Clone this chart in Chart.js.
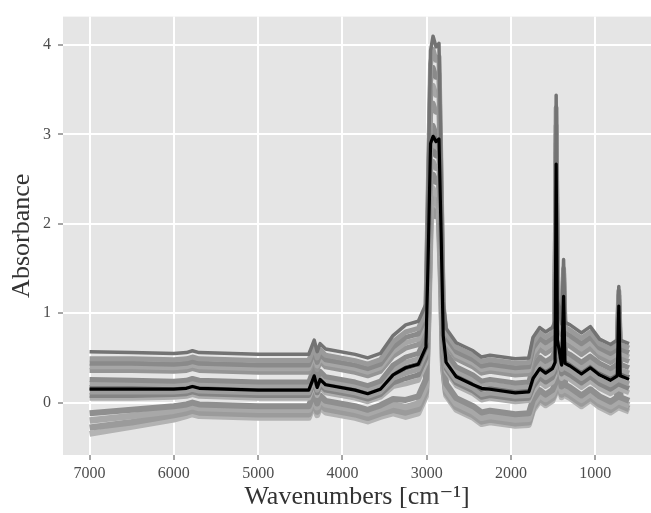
<!DOCTYPE html>
<html>
<head>
<meta charset="utf-8">
<script src="https://cdn.jsdelivr.net/npm/chart.js@4.4.0/dist/chart.umd.min.js"></script>
<style>
  html, body { margin: 0; padding: 0; background: #ffffff; }
  #spectra-chart { display: block; }
</style>
</head>
<body>
<canvas id="spectra-chart" width="651" height="513"></canvas>
<script>
// shared wavenumber grid (cm-1)
const wavenumbers = [7000, 6500, 6000, 5850, 5780, 5700, 5000, 4400, 4335, 4300, 4265, 4200, 3850, 3700, 3550, 3400, 3250, 3100, 3010, 2985, 2955, 2925, 2890, 2855, 2830, 2805, 2770, 2650, 2450, 2350, 2250, 1950, 1790, 1740, 1660, 1590, 1510, 1478, 1465, 1450, 1400, 1377, 1360, 1300, 1165, 1060, 950, 820, 740, 722, 705, 600];

// black mean spectrum
const meanSpectrum = [.15, .15, .15, .16, .18, .16, .14, .14, .30, .17, .26, .20, .14, .10, .15, .31, .39, .43, .62, 1.55, 2.90, 2.98, 2.92, 2.95, 1.90, .75, .45, .29, .20, .16, .15, .11, .12, .27, .38, .33, .38, .45, 2.67, .70, .42, 1.19, .44, .41, .32, .39, .31, .25, .30, 1.08, .30, .26];

// upper group
const spectrumU1 = [.57, .56, .55, .56, .58, .56, .54, .54, .70, .57, .66, .60, .54, .50, .55, .75, .87, .91, 1.10, 2.37, 3.94, 4.10, 3.98, 4.02, 2.62, 1.13, .83, .67, .58, .51, .53, .49, .50, .73, .84, .79, .84, .91, 3.44, 1.16, .88, 1.60, .90, .87, .78, .85, .71, .65, .70, 1.30, .70, .66];
const spectrumU2 = [.49, .49, .48, .49, .51, .49, .47, .47, .63, .50, .59, .53, .47, .43, .48, .68, .79, .83, 1.02, 2.25, 3.79, 3.95, 3.83, 3.87, 2.53, 1.08, .78, .62, .53, .46, .48, .44, .45, .67, .78, .73, .78, .85, 3.30, 1.10, .82, 1.50, .84, .81, .72, .79, .66, .60, .65, 1.25, .65, .61];
const spectrumU3 = [.44, .44, .43, .44, .46, .44, .42, .42, .58, .45, .54, .48, .42, .38, .43, .62, .73, .77, .96, 2.12, 3.60, 3.75, 3.64, 3.68, 2.40, 1.03, .73, .57, .48, .41, .43, .39, .40, .61, .72, .67, .72, .79, 3.10, 1.04, .76, 1.45, .78, .75, .66, .73, .61, .55, .60, 1.20, .60, .56];
const spectrumU4 = [.40, .40, .39, .40, .42, .40, .38, .38, .54, .41, .50, .44, .38, .34, .39, .57, .67, .71, .90, 1.99, 3.41, 3.55, 3.44, 3.48, 2.27, .99, .69, .53, .44, .37, .39, .35, .36, .55, .66, .61, .66, .73, 3.00, .98, .70, 1.40, .72, .69, .60, .67, .56, .50, .55, 1.15, .55, .51];
const spectrumU5 = [.36, .36, .35, .36, .38, .36, .34, .34, .50, .37, .46, .40, .34, .30, .35, .52, .61, .65, .84, 1.85, 3.22, 3.35, 3.25, 3.28, 2.14, .95, .65, .49, .40, .33, .35, .31, .32, .49, .60, .55, .60, .67, 2.90, .92, .64, 1.35, .66, .63, .54, .61, .51, .45, .50, 1.12, .50, .46];

// middle group
const spectrumM1 = [.26, .25, .24, .25, .27, .25, .23, .23, .39, .26, .35, .29, .23, .19, .24, .42, .51, .55, .74, 1.67, 2.98, 3.10, 3.01, 3.04, 1.98, .86, .56, .40, .31, .24, .26, .22, .23, .40, .51, .46, .51, .58, 2.80, .83, .55, 1.30, .57, .54, .45, .52, .44, .38, .43, 1.10, .43, .39];
const spectrumM2 = [.21, .21, .20, .21, .23, .21, .19, .19, .35, .22, .31, .25, .19, .15, .20, .37, .45, .49, .68, 1.56, 2.83, 2.95, 2.86, 2.89, 1.89, .81, .51, .35, .26, .19, .21, .17, .18, .34, .45, .40, .45, .52, 2.70, .77, .49, 1.22, .51, .48, .39, .46, .38, .32, .37, 1.05, .37, .33];
const spectrumM3 = [.17, .17, .17, .18, .20, .18, .16, .16, .32, .19, .28, .22, .16, .12, .17, .32, .39, .43, .62, 1.57, 2.90, 3.02, 2.93, 2.96, 1.93, .77, .47, .31, .22, .15, .17, .13, .14, .29, .40, .35, .40, .47, 2.70, .72, .44, 1.18, .46, .43, .34, .41, .33, .27, .32, 1.05, .32, .28];
const spectrumM4 = [.12, .12, .12, .13, .15, .13, .11, .11, .27, .14, .23, .17, .11, .07, .12, .27, .33, .37, .56, 1.37, 2.59, 2.70, 2.62, 2.65, 1.73, .71, .41, .25, .16, .09, .11, .07, .08, .22, .33, .28, .33, .40, 2.40, .65, .37, 1.10, .39, .36, .27, .34, .26, .20, .25, 1.00, .25, .21];
const spectrumM5 = [.08, .08, .09, .10, .12, .10, .08, .08, .24, .11, .20, .14, .08, .04, .09, .22, .27, .31, .50, 1.42, 2.74, 2.85, 2.76, 2.79, 1.82, .68, .38, .22, .13, .06, .08, .04, .05, .17, .28, .23, .28, .35, 2.30, .60, .32, 1.05, .34, .31, .22, .29, .21, .15, .20, .95, .20, .16];
const spectrumM6 = [.05, .05, .06, .07, .09, .07, .05, .05, .21, .08, .17, .11, .05, .01, .06, .18, .21, .25, .44, 1.16, 2.30, 2.40, 2.33, 2.35, 1.54, .65, .35, .19, .10, .03, .05, .01, .02, .12, .23, .18, .23, .30, 2.10, .55, .27, 1.00, .29, .26, .17, .24, .16, .10, .15, .90, .15, .11];

// lower group
const spectrumL1 = [-.12, -.08, -.04, -.02, .00, -.02, -.04, -.04, .12, -.01, .08, .02, -.04, -.08, -.03, .04, .03, .07, .26, 1.15, 2.45, 2.55, 2.47, 2.50, 1.63, .51, .21, .05, -.04, -.11, -.09, -.13, -.12, .03, .14, .09, .14, .21, 2.00, .46, .18, .95, .20, .17, .08, .15, .07, .01, .06, .90, .06, .02];
const spectrumL2 = [-.20, -.15, -.09, -.06, -.04, -.06, -.08, -.08, .08, -.05, .04, -.02, -.08, -.12, -.07, -.02, -.05, -.01, .18, .98, 2.21, 2.30, 2.23, 2.25, 1.47, .45, .15, -.01, -.10, -.17, -.15, -.19, -.18, -.02, .09, .04, .09, .16, 1.90, .41, .13, .90, .15, .12, .03, .10, .02, -.04, .01, .85, .01, -.03];
const spectrumL3 = [-.28, -.22, -.14, -.11, -.09, -.11, -.13, -.13, .03, -.10, -.01, -.07, -.13, -.17, -.12, -.08, -.11, -.07, .12, .87, 2.06, 2.15, 2.09, 2.11, 1.38, .41, .11, -.05, -.14, -.21, -.19, -.23, -.22, -.06, .05, .00, .05, .12, 1.80, .37, .09, .88, .11, .08, -.01, .06, -.02, -.08, -.03, .80, -.03, -.07];
const spectrumL4 = [-.35, -.27, -.19, -.15, -.13, -.15, -.17, -.17, -.01, -.14, -.05, -.11, -.17, -.21, -.16, -.12, -.16, -.12, .07, .89, 2.16, 2.25, 2.18, 2.21, 1.44, .38, .08, -.08, -.17, -.24, -.22, -.26, -.25, -.09, .02, -.03, .02, .09, 1.85, .34, .06, .85, .08, .05, -.04, .03, -.05, -.11, -.06, .80, -.06, -.10];

const graySpectra = [spectrumU1, spectrumU2, spectrumU3, spectrumU4, spectrumU5, spectrumM1, spectrumM2, spectrumM3, spectrumM4, spectrumM5, spectrumM6, spectrumL1, spectrumL2, spectrumL3, spectrumL4];
const grayColors = ["#737373", "#9a9a9a", "#8a8a8a", "#a6a6a6", "#959595", "#8c8c8c", "#a3a3a3", "#6f6f6f", "#9e9e9e", "#858585", "#adadad", "#8f8f8f", "#a8a8a8", "#9b9b9b", "#b3b3b3"];
const grayWidths = [3.5, 5, 5, 5, 5, 5, 5, 5, 5, 5, 5, 6, 6.5, 6.5, 6];

const xTicks = [7000, 6000, 5000, 4000, 3000, 2000, 1000];
const yTicks = [0, 1, 2, 3, 4];

const SERIF = "'Liberation Serif', 'DejaVu Serif', serif";

const toPoints = (values) => values.map((y, i) => ({ x: wavenumbers[i], y }));

const panelBackground = {
  id: "panelBackground",
  beforeDraw(chart) {
    const { ctx, chartArea } = chart;
    ctx.save();
    ctx.fillStyle = "#e5e5e5";
    ctx.fillRect(chartArea.left, chartArea.top, chartArea.right - chartArea.left, chartArea.bottom - chartArea.top);
    ctx.restore();
  },
};

const datasets = [
  {
    label: "Mean",
    data: toPoints(meanSpectrum),
    borderColor: "#000000",
    borderWidth: 3.2,
    order: 0,
  },
  ...graySpectra.map((values, i) => ({
    label: "Spectrum " + (i + 1),
    data: toPoints(values),
    borderColor: grayColors[i],
    borderWidth: grayWidths[i],
    order: 1,
  })),
];

const gridStyle = {
  color: "#ffffff",
  lineWidth: 2,
  tickColor: "#4d4d4d",
  tickLength: 5,
  tickWidth: 1,
};

new Chart(document.getElementById("spectra-chart"), {
  type: "line",
  data: { datasets },
  plugins: [panelBackground],
  options: {
    responsive: false,
    animation: false,
    devicePixelRatio: 1,
    layout: { padding: { top: 14, right: 0, left: 0, bottom: 0 } },
    elements: {
      point: { radius: 0 },
      line: { tension: 0, borderJoinStyle: "round", borderCapStyle: "butt" },
    },
    plugins: {
      legend: { display: false },
      tooltip: { enabled: false },
    },
    scales: {
      x: {
        type: "linear",
        reverse: true,
        min: 340,
        max: 7315,
        afterBuildTicks: (scale) => {
          scale.ticks = xTicks.map((v) => ({ value: v }));
        },
        afterFit: (scale) => {
          scale.height = 58;
        },
        grid: gridStyle,
        border: { display: false },
        ticks: {
          color: "#4d4d4d",
          font: { family: SERIF, size: 16 },
          padding: 4,
          maxRotation: 0,
          autoSkip: false,
          callback: (value) => String(value),
        },
        title: {
          display: true,
          text: "Wavenumbers [cm⁻¹]",
          color: "#333333",
          font: { family: SERIF, size: 26 },
          padding: { top: 0, bottom: 0 },
        },
      },
      y: {
        type: "linear",
        min: -0.586,
        max: 4.319,
        afterBuildTicks: (scale) => {
          scale.ticks = yTicks.map((v) => ({ value: v }));
        },
        afterFit: (scale) => {
          scale.width = 63;
        },
        grid: gridStyle,
        border: { display: false },
        ticks: {
          color: "#4d4d4d",
          font: { family: SERIF, size: 16 },
          padding: 7,
          callback: (value) => String(value),
        },
        title: {
          display: true,
          text: "Absorbance",
          color: "#333333",
          font: { family: SERIF, size: 26 },
          padding: { top: 7, bottom: 0 },
        },
      },
    },
  },
});
</script>
</body>
</html>
